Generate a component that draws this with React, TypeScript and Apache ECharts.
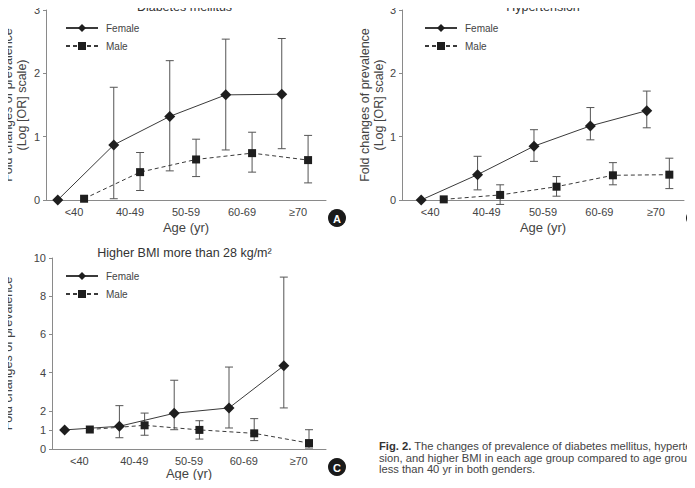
import React, { useEffect, useRef } from "react";
import * as echarts from "echarts";

// Age groups on every x axis
const ageGroups = ["<40", "40-49", "50-59", "60-69", "≥70"];

// A: Diabetes mellitus (log OR)
const dmFemale = [0, 0.87, 1.32, 1.66, 1.67];
const dmFemaleLow = [null, 0.02, 0.46, 0.79, 0.81];
const dmFemaleHigh = [null, 1.78, 2.2, 2.54, 2.55];
const dmMale = [0.02, 0.44, 0.64, 0.74, 0.63];
const dmMaleLow = [null, 0.15, 0.37, 0.44, 0.27];
const dmMaleHigh = [null, 0.75, 0.96, 1.07, 1.02];

// B: Hypertension (log OR)
const htFemale = [0, 0.4, 0.85, 1.17, 1.41];
const htFemaleLow = [null, 0.16, 0.61, 0.95, 1.14];
const htFemaleHigh = [null, 0.69, 1.11, 1.46, 1.72];
const htMale = [0.01, 0.08, 0.21, 0.39, 0.4];
const htMaleLow = [null, -0.07, 0.06, 0.24, 0.18];
const htMaleHigh = [null, 0.24, 0.37, 0.59, 0.66];

// C: Higher BMI more than 28 kg/m²
const bmiFemale = [1.0, 1.19, 1.87, 2.15, 4.36];
const bmiFemaleLow = [null, 0.59, 1.01, 1.1, 2.15];
const bmiFemaleHigh = [null, 2.27, 3.6, 4.29, 9.0];
const bmiMale = [1.02, 1.24, 1.0, 0.82, 0.31];
const bmiMaleLow = [null, 0.72, 0.52, 0.44, 0.05];
const bmiMaleHigh = [null, 1.88, 1.48, 1.59, 1.01];

const dmTicks = [0, 1, 2, 3];
const htTicks = [0, 1, 2, 3];
const bmiTicks = [0, 1, 2, 4, 6, 8, 10];

const FONT = "'Liberation Sans', Arial, sans-serif";
const AXIS = "#8a8a8a";
const TEXT = "#444";
const LINE = "#3a3a3a";
const MARK = "#1e1e1e";
const ERR = "#555";

type Panel = {
  title: string;
  titleY: number;
  badge: string;
  grid: { left: number; top: number; width: number; height: number };
  yMax: number;
  ticks: number[];
  yName: string;
  yNameGap: number;
  xNameGap: number;
  female: number[];
  femaleLow: (number | null)[];
  femaleHigh: (number | null)[];
  male: number[];
  maleLow: (number | null)[];
  maleHigh: (number | null)[];
  femaleShift: number;
  maleShift: number;
};

const panels: Panel[] = [
  {
    title: "Diabetes mellitus",
    titleY: 7,
    badge: "A",
    grid: { left: 43, top: 10, width: 283, height: 190 },
    yMax: 3,
    ticks: dmTicks,
    yName: "Fold changes of prevalence\n(Log [OR] scale)",
    yNameGap: 17,
    xNameGap: 21,
    female: dmFemale,
    femaleLow: dmFemaleLow,
    femaleHigh: dmFemaleHigh,
    male: dmMale,
    maleLow: dmMaleLow,
    maleHigh: dmMaleHigh,
    femaleShift: 0.21,
    maleShift: 0.68,
  },
  {
    title: "Hypertension",
    titleY: 7,
    badge: "B",
    grid: { left: 402, top: 10, width: 282, height: 190 },
    yMax: 3,
    ticks: htTicks,
    yName: "Fold changes of prevalence\n(Log [OR] scale)",
    yNameGap: 16,
    xNameGap: 21,
    female: htFemale,
    femaleLow: htFemaleLow,
    femaleHigh: htFemaleHigh,
    male: htMale,
    maleLow: htMaleLow,
    maleHigh: htMaleHigh,
    femaleShift: 0.34,
    maleShift: 0.74,
  },
  {
    title: "Higher BMI more than 28 kg/m²",
    titleY: 253,
    badge: "C",
    grid: { left: 43, top: 258, width: 283, height: 191 },
    yMax: 10,
    ticks: bmiTicks,
    yName: "Fold changes of prevalence",
    yNameGap: 37,
    xNameGap: 17,
    female: bmiFemale,
    femaleLow: bmiFemaleLow,
    femaleHigh: bmiFemaleHigh,
    male: bmiMale,
    maleLow: bmiMaleLow,
    maleHigh: bmiMaleHigh,
    femaleShift: 0.23,
    maleShift: 0.69,
  },
];

const errorBar = (params: any, api: any) => {
  const x = api.value(0);
  const top = api.coord([x, api.value(2)]);
  const bot = api.coord([x, api.value(1)]);
  const w = 4;
  const style = { stroke: ERR, lineWidth: 1 };
  return {
    type: "group",
    children: [
      { type: "line", shape: { x1: top[0], y1: top[1], x2: bot[0], y2: bot[1] }, style },
      { type: "line", shape: { x1: top[0] - w, y1: top[1], x2: top[0] + w, y2: top[1] }, style },
      { type: "line", shape: { x1: bot[0] - w, y1: bot[1], x2: bot[0] + w, y2: bot[1] }, style },
    ],
  };
};

const barData = (low: (number | null)[], high: (number | null)[], shift: number) =>
  low
    .map((lo, i) => (lo == null || high[i] == null ? null : [i + shift, lo, high[i]]))
    .filter((d) => d !== null);

function buildOption() {
  const grid: any[] = [];
  const xAxis: any[] = [];
  const yAxis: any[] = [];
  const series: any[] = [];
  const legend: any[] = [];
  const graphic: any[] = [];

  panels.forEach((p, k) => {
    grid.push({ ...p.grid, containLabel: false });
    xAxis.push({
      type: "category",
      gridIndex: k,
      data: ageGroups,
      boundaryGap: true,
      axisLine: { lineStyle: { color: AXIS, width: 1 } },
      axisTick: { length: 3, lineStyle: { color: AXIS } },
      axisLabel: { fontSize: 11, color: TEXT, margin: 6, fontFamily: FONT },
      name: "Age (yr)",
      nameLocation: "middle",
      nameGap: p.xNameGap,
      nameTextStyle: { fontSize: 13, color: TEXT, fontFamily: FONT },
      splitLine: { show: false },
    });
    xAxis.push({
      type: "value",
      gridIndex: k,
      min: 0,
      max: 5,
      show: false,
    });
    yAxis.push({
      type: "value",
      gridIndex: k,
      min: 0,
      max: p.yMax,
      interval: 1,
      axisLine: { show: true, lineStyle: { color: AXIS, width: 1 } },
      axisTick: { show: true, length: 3, lineStyle: { color: AXIS }, customValues: p.ticks },
      axisLabel: { fontSize: 11, color: TEXT, margin: 6, fontFamily: FONT, customValues: p.ticks },
      splitLine: { show: false },
      name: p.yName,
      nameLocation: "middle",
      nameRotate: 90,
      nameGap: p.yNameGap,
      nameTextStyle: { fontSize: 12.5, color: TEXT, fontFamily: FONT, lineHeight: 14 },
    });

    // trend lines come first so the legend takes their line + symbol icons
    series.push({
      name: "Female",
      type: "line",
      xAxisIndex: 2 * k + 1,
      yAxisIndex: k,
      data: p.female.map((v, i) => [i + p.femaleShift, v]),
      symbol: "diamond",
      symbolSize: [11, 11],
      lineStyle: { color: LINE, width: 1 },
      itemStyle: { color: MARK },
      clip: false,
      z: 3,
    });
    series.push({
      name: "Male",
      type: "line",
      xAxisIndex: 2 * k + 1,
      yAxisIndex: k,
      data: p.male.map((v, i) => [i + p.maleShift, v]),
      symbol: "rect",
      symbolSize: 8,
      lineStyle: { color: LINE, width: 1, type: [4, 3] },
      itemStyle: { color: MARK },
      clip: false,
      z: 3,
    });
    series.push({
      name: "Female 95% CI",
      type: "custom",
      xAxisIndex: 2 * k + 1,
      yAxisIndex: k,
      renderItem: errorBar,
      encode: { x: 0, y: [1, 2] },
      data: barData(p.femaleLow, p.femaleHigh, p.femaleShift),
      clip: false,
      z: 1,
      silent: true,
    });
    series.push({
      name: "Male 95% CI",
      type: "custom",
      xAxisIndex: 2 * k + 1,
      yAxisIndex: k,
      renderItem: errorBar,
      encode: { x: 0, y: [1, 2] },
      data: barData(p.maleLow, p.maleHigh, p.maleShift),
      clip: false,
      z: 1,
      silent: true,
    });

    legend.push({
      data: ["Female", "Male"],
      orient: "vertical",
      left: p.grid.left + 22,
      top: p.grid.top + 13,
      padding: 0,
      itemWidth: 32,
      itemHeight: 10,
      itemGap: 8,
      selectedMode: false,
      textStyle: { fontSize: 10, color: TEXT, fontFamily: FONT, padding: [0, 0, 0, 3] },
    });

    const cx = p.grid.left + p.grid.width / 2;
    graphic.push({
      type: "text",
      x: cx,
      y: p.titleY,
      z: 10,
      style: {
        text: p.title,
        fill: "#333",
        font: `12.5px ${FONT}`,
        align: "center",
        verticalAlign: "middle",
      },
    });

    const bx = p.grid.left + p.grid.width + 11;
    const by = p.grid.top + p.grid.height + 18;
    graphic.push({
      type: "circle",
      shape: { cx: bx, cy: by, r: 9 },
      style: { fill: "#1a1a1a" },
    });
    graphic.push({
      type: "text",
      x: bx,
      y: by + 0.5,
      style: {
        text: p.badge,
        fill: "#fff",
        font: `bold 11px ${FONT}`,
        align: "center",
        verticalAlign: "middle",
      },
    });
  });

  graphic.push({
    type: "text",
    x: 379,
    y: 440,
    style: {
      text:
        "{b|Fig. 2.} The changes of prevalence of diabetes mellitus, hyperten-\n" +
        "sion, and higher BMI in each age group compared to age group\n" +
        "less than 40 yr in both genders.",
      fill: "#444",
      font: `11.2px ${FONT}`,
      lineHeight: 11.7,
      rich: {
        b: { fontWeight: "bold", fontSize: 11.2, fontFamily: FONT, fill: "#333" },
      },
    },
  });

  return {
    animation: false,
    backgroundColor: "#fff",
    textStyle: { fontFamily: FONT },
    grid,
    xAxis,
    yAxis,
    series,
    legend,
    graphic,
  };
}

export default function App() {
  const ref = useRef<HTMLDivElement>(null);
  useEffect(() => {
    if (!ref.current) return;
    const chart = echarts.init(ref.current, null, { renderer: "svg" });
    chart.setOption(buildOption() as any);
    return () => chart.dispose();
  }, []);
  return <div ref={ref} style={{ width: 695, height: 488, margin: -8 }} />;
}
